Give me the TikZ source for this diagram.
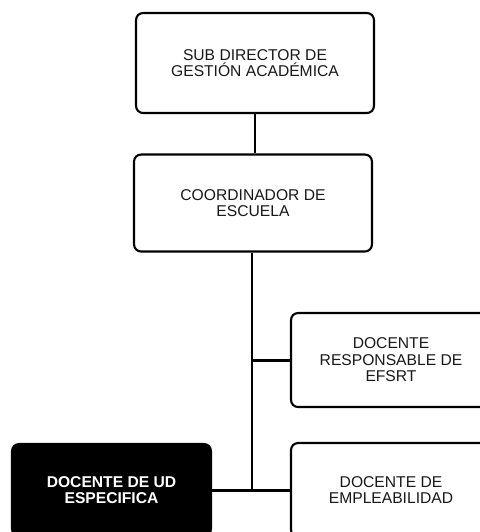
\documentclass[tikz,border=0pt]{standalone}
\usepackage{fontspec}
\setmainfont{Liberation Sans}
\usetikzlibrary{shapes,arrows,positioning,calc}

\begin{document}
\begin{tikzpicture}[x=0.02cm,y=-0.02cm,font=\fontsize{8.9}{9.4}\selectfont]
\tikzstyle{block} = [draw, shape=rectangle, rounded corners=4pt, minimum height=1.94cm, minimum width=4.76cm, line width=1.2pt, align=center, fill=white, text=black!90]
\tikzstyle{smallblock} = [block, minimum height=1.88cm, minimum width=4cm]
\tikzstyle{darkblock} = [smallblock, minimum height=1.84cm, minimum width=3.98cm, fill=black, text=white, font=\fontsize{8.9}{9.4}\selectfont\bfseries]
\useasboundingbox (0,0) rectangle (480,532);
\clip (0,0) rectangle (480,532);
%Creating Blocks and Connection Nodes
\node at (255,63) [block, minimum height=2cm] (subdir) {SUB DIRECTOR DE\\GESTIÓN ACADÉMICA};
\node at (253,203) [block] (coord) {COORDINADOR DE\\ESCUELA};
\node at (391,360) [smallblock] (resp) {DOCENTE\\RESPONSABLE DE\\EFSRT};
\node at (391,490) [smallblock] (empl) {DOCENTE DE\\EMPLEABILIDAD};
\node at (111.5,490) [darkblock] (docud) {DOCENTE DE UD\\ESPECIFICA};
\begin{scope}[line width = 1.7pt]
\draw (subdir) -- (subdir |- coord.north);
\draw ($(coord.south)+(-1,0)$) coordinate (top) -- (top |- docud.east) coordinate (joint);
\draw (resp.west) -- (resp.west -| top);
\draw (docud.east) -- (empl.west);
\end{scope}
\end{tikzpicture}
\end{document}
